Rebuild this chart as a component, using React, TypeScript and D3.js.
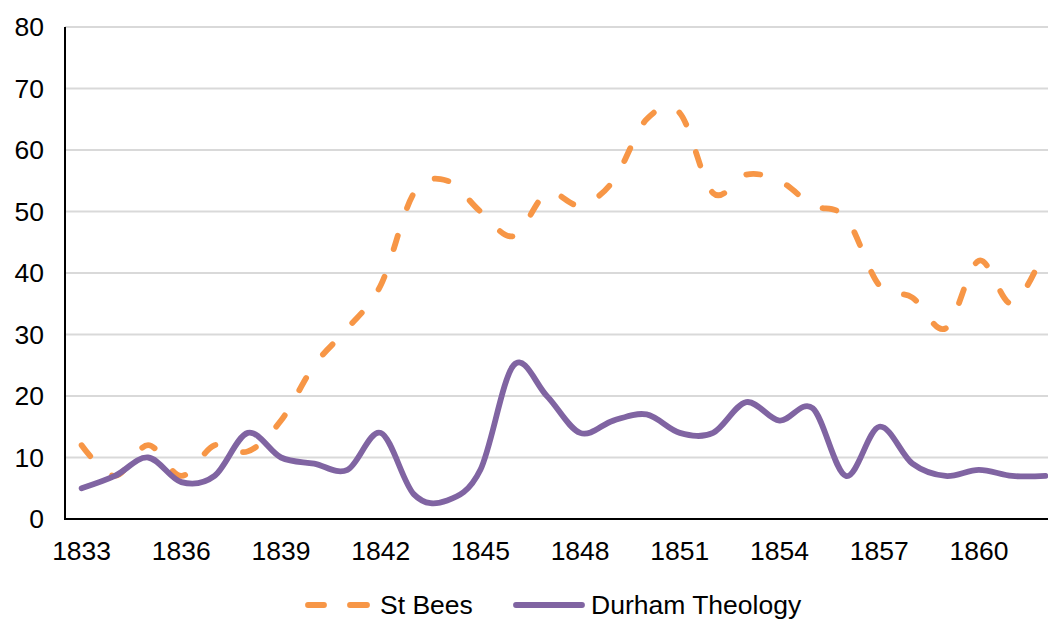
import React from 'react';
import * as d3 from 'd3';

const years = d3.range(1833, 1863);
const stBees = [12, 7, 12, 7, 12, 11, 16, 25, 31, 38, 53, 55, 50, 46, 53, 51, 55, 65, 66, 53, 56, 55, 51, 49, 38, 36, 31, 42, 35, 44];
const durham = [5, 7, 10, 6, 7, 14, 10, 9, 8, 14, 4, 3, 8, 25, 20, 14, 16, 17, 14, 14, 19, 16, 18, 7, 15, 9, 7, 8, 7, 7];
const yTicks = [0, 10, 20, 30, 40, 50, 60, 70, 80];
const xTickYears = [1833, 1836, 1839, 1842, 1845, 1848, 1851, 1854, 1857, 1860];

const width = 1048;
const height = 619;
const margin = { left: 65, top: 27, right: -14, bottom: 100 };
const font = '"Liberation Sans", Arial, sans-serif';
const fontSize = 26.5;
const orange = '#F79646';
const purple = '#8064A2';

export default function App() {
  const x = d3
    .scalePoint<number>()
    .domain(years)
    .range([margin.left, width - margin.right])
    .padding(0.5);
  const y = d3.scaleLinear().domain([0, 80]).range([height - margin.bottom, margin.top]);

  const line = d3
    .line<number>()
    .x((_, i) => x(years[i]) as number)
    .y((d) => y(d))
    .curve(d3.curveCardinal.tension(0));

  const legendY = 605;

  return (
    <svg
      width={width}
      height={height}
      style={{ position: 'absolute', left: 0, top: 0, background: '#fff' }}
    >
      {/* gridlines */}
      {yTicks.slice(1).map((t) => (
        <line
          key={t}
          x1={margin.left}
          x2={width - margin.right}
          y1={y(t)}
          y2={y(t)}
          stroke="#d9d9d9"
          strokeWidth={2}
        />
      ))}

      {/* y labels */}
      {yTicks.map((t) => (
        <text
          key={t}
          x={44}
          y={y(t)}
          textAnchor="end"
          dominantBaseline="central"
          fontFamily={font}
          fontSize={fontSize}
          fill="#000"
        >
          {t}
        </text>
      ))}

      {/* x labels */}
      {xTickYears.map((yr) => (
        <text
          key={yr}
          x={x(yr)}
          y={551}
          textAnchor="middle"
          dominantBaseline="central"
          fontFamily={font}
          fontSize={fontSize}
          fill="#000"
        >
          {yr}
        </text>
      ))}

      {/* series */}
      <path
        d={line(stBees) || ''}
        fill="none"
        stroke={orange}
        strokeWidth={5.8}
        strokeLinecap="round"
        strokeDasharray="14 29"
      />
      <path
        d={line(durham) || ''}
        fill="none"
        stroke={purple}
        strokeWidth={5.8}
        strokeLinecap="round"
      />

      {/* axes */}
      <line x1={margin.left} x2={margin.left} y1={margin.top} y2={y(0)} stroke="#000" strokeWidth={2} />
      <line x1={margin.left - 1} x2={width} y1={y(0)} y2={y(0)} stroke="#000" strokeWidth={2} />

      {/* legend */}
      <line x1={308} x2={324} y1={legendY} y2={legendY} stroke={orange} strokeWidth={5.8} strokeLinecap="round" />
      <line x1={350} x2={367} y1={legendY} y2={legendY} stroke={orange} strokeWidth={5.8} strokeLinecap="round" />
      <text x={380} y={legendY} dominantBaseline="central" fontFamily={font} fontSize={fontSize} fill="#000">
        St Bees
      </text>
      <line x1={516} x2={582} y1={legendY} y2={legendY} stroke={purple} strokeWidth={5.8} strokeLinecap="round" />
      <text x={591} y={legendY} dominantBaseline="central" fontFamily={font} fontSize={fontSize} fill="#000">
        Durham Theology
      </text>
    </svg>
  );
}
